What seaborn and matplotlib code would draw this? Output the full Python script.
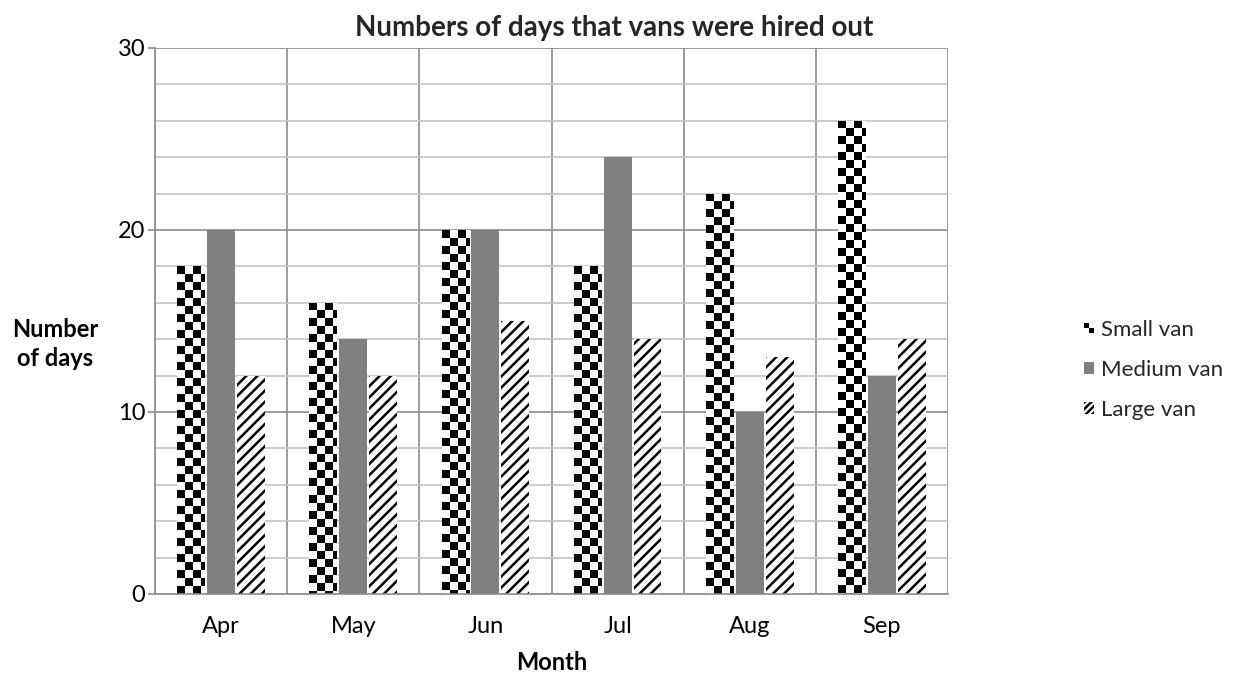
import numpy as np
import pandas as pd
import matplotlib
matplotlib.use("Agg")
import matplotlib.pyplot as plt
import seaborn as sns
from matplotlib.patches import Rectangle
from matplotlib.legend_handler import HandlerBase

months = ["Apr", "May", "Jun", "Jul", "Aug", "Sep"]
series_names = ["Small van", "Medium van", "Large van"]
small_van = [18, 16, 20, 18, 22, 26]
medium_van = [20, 14, 20, 24, 10, 12]
large_van = [12, 12, 15, 14, 13, 14]
y_ticks = [0, 10, 20, 30]

df = pd.DataFrame({
    "Month": months * 3,
    "Van": [series_names[0]] * 6 + [series_names[1]] * 6 + [series_names[2]] * 6,
    "Days": small_van + medium_van + large_van,
})

sns.set_theme(style="white")
plt.rcParams["font.family"] = ["Lato", "DejaVu Sans"]
plt.rcParams["hatch.linewidth"] = 1.8
plt.rcParams["hatch.color"] = "black"

fig = plt.figure(figsize=(12.35, 6.75), dpi=100)
ax = fig.add_axes([155 / 1235, 81 / 675, 793 / 1235, 546 / 675])

palette = {"Small van": "white", "Medium van": "#808080", "Large van": "white"}
sns.barplot(data=df, x="Month", y="Days", hue="Van", order=months,
            hue_order=series_names, palette=palette, width=0.68, gap=0.07,
            saturation=1, linewidth=0, legend=False, ax=ax, zorder=2)

ax.set_xlim(-0.5, 5.5)
ax.set_ylim(0, 30)

# grid
ax.set_axisbelow(True)
ax.set_yticks(y_ticks)
ax.set_yticks(np.arange(0, 31, 2), minor=True)
ax.grid(axis="y", which="minor", color="#c4c4c4", linewidth=1.2, zorder=0)
ax.grid(axis="y", which="major", color="#8c8c8c", linewidth=1.2, zorder=0)
for xb in np.arange(-0.5, 6.0, 1.0):
    ax.axvline(xb, color="#8c8c8c", linewidth=1.2, zorder=0.5)
for s in ["top", "right"]:
    ax.spines[s].set_visible(False)
for s in ["left", "bottom"]:
    ax.spines[s].set_color("#8c8c8c")
    ax.spines[s].set_linewidth(1.2)

ax.tick_params(axis="y", which="major", length=5, width=1.2, color="#8c8c8c",
               direction="out", left=True, labelsize=17, pad=2, labelcolor="black")
ax.tick_params(axis="y", which="minor", length=0)
ax.tick_params(axis="x", length=0, labelsize=17, pad=16, labelcolor="black")

# hatched large vans
for p in ax.containers[2]:
    p.set_facecolor("white")
    p.set_edgecolor("black")
    p.set_linewidth(0)
    p.set_hatch("///")

# checkerboard small vans
sq = 8.0
fig.canvas.draw()
for p in ax.containers[0]:
    x0 = p.get_x()
    w = p.get_width()
    h = p.get_height()
    (px0, py0) = ax.transData.transform((x0, 0))
    (px1, py1) = ax.transData.transform((x0 + w, h))
    wpx = px1 - px0
    hpx = py1 - py0
    ncols = int(np.ceil(wpx / sq))
    nrows = int(np.ceil(hpx / sq))
    arr = (np.indices((nrows, ncols)).sum(axis=0) % 2).astype(float)
    dx = ncols * sq * w / wpx
    dy = nrows * sq * h / hpx
    im = ax.imshow(arr, cmap="gray", vmin=0, vmax=1, interpolation="nearest",
                   aspect="auto", origin="upper",
                   extent=[x0, x0 + dx, h - dy, h], zorder=2.1)
    im.set_clip_path(p)
ax.set_xlim(-0.5, 5.5)
ax.set_ylim(0, 30)

ax.set_xlabel("Month", fontsize=17, fontweight="bold", labelpad=10, color="black")
ax.set_ylabel("Number\nof days", fontsize=17, fontweight="bold", rotation=0,
              ha="center", va="center", color="black", linespacing=1.3)
ax.yaxis.set_label_coords(-0.126, 0.458)

fig.suptitle("Numbers of days that vans were hired out", fontsize=20,
             fontweight="bold", x=0.497, y=0.959, va="center")


class CheckerHandler(HandlerBase):
    def create_artists(self, legend, orig_handle, xdescent, ydescent, width,
                       height, fontsize, trans):
        s = min(width, height)
        x = -xdescent + (width - s) / 2
        y = -ydescent + (height - s) / 2
        h = s / 2
        arts = [
            Rectangle((x, y + h), h, h, facecolor="black", edgecolor="none", transform=trans),
            Rectangle((x + h, y), h, h, facecolor="black", edgecolor="none", transform=trans),
        ]
        return arts


h_small = Rectangle((0, 0), 1, 1, facecolor="white")
h_med = Rectangle((0, 0), 1, 1, facecolor="#808080", edgecolor="none")
h_large = Rectangle((0, 0), 1, 1, facecolor="white", edgecolor="black",
                    linewidth=0, hatch="/////")
leg = fig.legend([h_small, h_med, h_large], series_names, loc="center left",
                 bbox_to_anchor=(0.8775, 0.452), frameon=False, fontsize=16,
                 handlelength=0.45, handleheight=0.45, handletextpad=0.35,
                 labelspacing=0.9, borderpad=0, borderaxespad=0,
                 handler_map={h_small: CheckerHandler()})

fig.savefig("out.png", dpi=100)
